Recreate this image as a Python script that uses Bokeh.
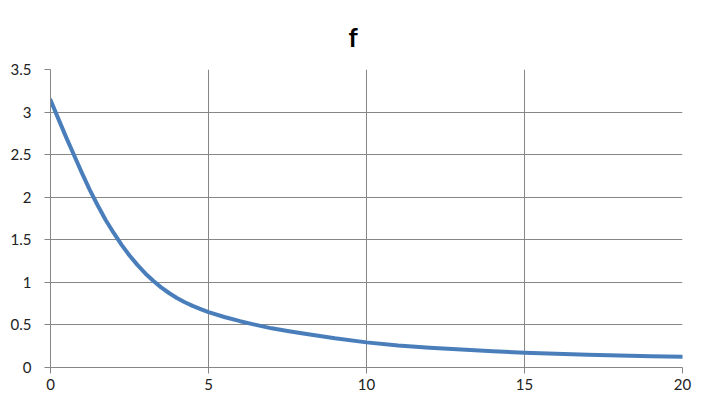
from bokeh.plotting import figure
from bokeh.models import FixedTicker, Title
from bokeh.embed import file_html
from bokeh.resources import INLINE

# data
x_vals = [0, 0.25, 0.5, 0.75, 1, 1.25, 1.5, 1.75, 2, 2.25, 2.5, 2.75, 3,
          3.25, 3.5, 3.75, 4, 4.25, 4.5, 4.75, 5, 5.5, 6, 6.5, 7, 7.5, 8,
          9, 10, 11, 12, 13, 14, 15, 16, 17, 18, 19, 20]
f_vals = [3.14, 2.92, 2.70, 2.49, 2.28, 2.08, 1.90, 1.73, 1.58, 1.44, 1.315,
          1.205, 1.105, 1.018, 0.941, 0.875, 0.816, 0.767, 0.724, 0.686,
          0.65, 0.593, 0.544, 0.50, 0.46, 0.428, 0.40, 0.343, 0.295, 0.259,
          0.232, 0.210, 0.190, 0.174, 0.162, 0.151, 0.142, 0.133, 0.126]
x_ticks = [0, 5, 10, 15, 20]
y_ticks = [0, 0.5, 1, 1.5, 2, 2.5, 3, 3.5]
y_tick_labels = ["0", "0.5", "1", "1.5", "2", "2.5", "3", "3.5"]
title_text = "f"

FONT = "Lato"

p = figure(width=697, height=403, frame_width=632, frame_height=298,
           x_range=(0, 20), y_range=(0, 3.5),
           output_backend="svg", toolbar_location=None,
           min_border_left=50, min_border_right=15, min_border_top=69,
           min_border_bottom=36)
p.title = None
t = Title(text=title_text, align="left", text_font=FONT,
          text_font_size="26px", text_font_style="bold", text_color="#000000",
          offset=298, standoff=33)
p.add_layout(t, "above")

p.line(x_vals, f_vals, line_color="#4a7ebb", line_width=4, line_cap="round",
       line_join="round")

p.outline_line_color = None
p.background_fill_color = "white"
p.border_fill_color = "white"

p.xaxis.ticker = FixedTicker(ticks=x_ticks)
p.yaxis.ticker = FixedTicker(ticks=y_ticks)
p.yaxis.major_label_overrides = {v: s for v, s in zip(y_ticks, y_tick_labels)}

for ax in (p.xaxis, p.yaxis):
    ax.axis_line_color = "#868686"
    ax.major_tick_line_color = "#868686"
    ax.major_tick_in = 0
    ax.major_tick_out = 6
    ax.minor_tick_line_color = None
    ax.major_label_text_font = FONT
    ax.major_label_text_font_size = "15px"
    ax.major_label_text_color = "#222222"
p.xaxis.major_label_standoff = 5
p.yaxis.major_label_standoff = 13

p.xgrid.ticker = FixedTicker(ticks=x_ticks)
p.ygrid.ticker = FixedTicker(ticks=y_ticks)
for g in (p.xgrid, p.ygrid):
    g.grid_line_color = "#868686"
    g.grid_line_width = 1

open("out.html", "w").write(file_html(p, INLINE))
